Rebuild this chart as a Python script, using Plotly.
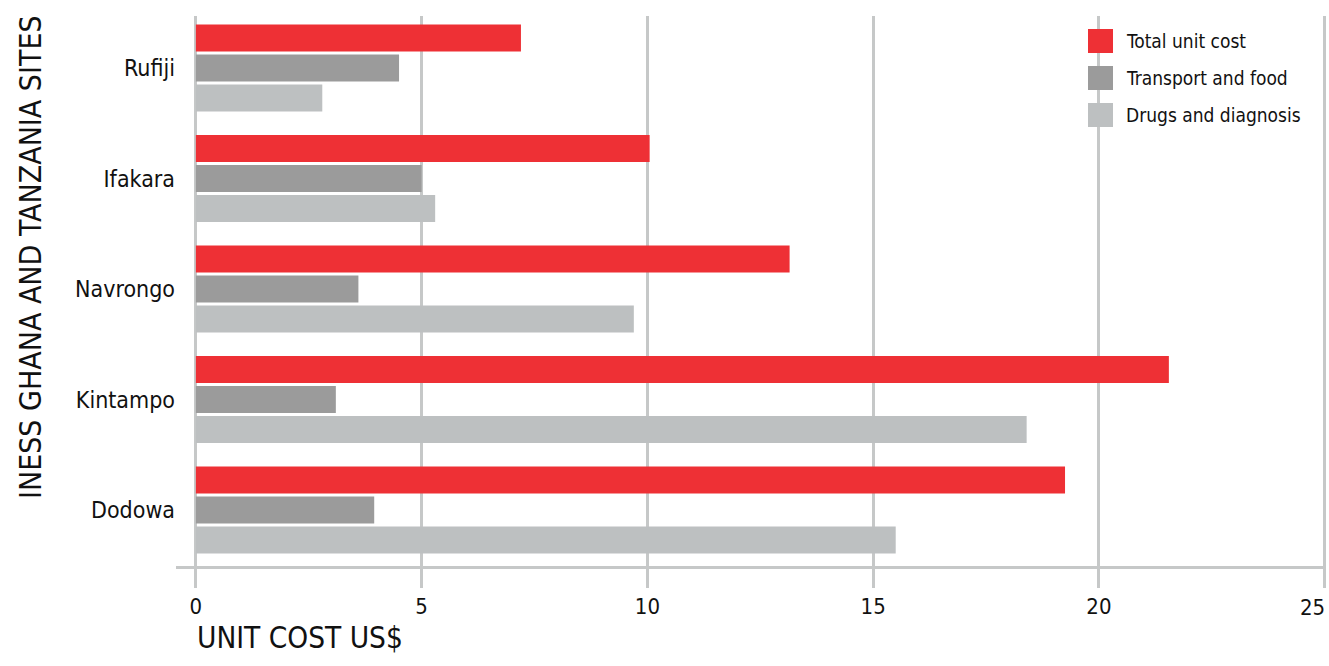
import plotly.graph_objects as go

sites = ["Rufiji", "Ifakara", "Navrongo", "Kintampo", "Dodowa"]
series_names = ["Total unit cost", "Transport and food", "Drugs and diagnosis"]
total_cost = [7.2, 10.05, 13.15, 21.55, 19.25]
transport_food = [4.5, 5.0, 3.6, 3.1, 3.95]
drugs_diagnosis = [2.8, 5.3, 9.7, 18.4, 15.5]
series_values = [total_cost, transport_food, drugs_diagnosis]
colors = ["#EE3035", "#9B9B9B", "#BDC0C1"]
x_ticks = [0, 5, 10, 15, 20, 25]
x_tick_labels = ["0", "5", "10", "15", "20", "25"]

FONT = "DejaVu Sans Condensed, Roboto Condensed, Roboto, sans-serif"
GRID = "#C6C8C8"
DOMW = 1150.0

fig = go.Figure()
for name, vals, col in zip(series_names, series_values, colors):
    fig.add_trace(go.Bar(
        y=sites, x=vals, name=name, orientation="h",
        marker=dict(color=col, line=dict(width=0)),
        showlegend=False,
    ))

# last tick label is drawn right-aligned to its gridline (as in the reference)
shown_labels = x_tick_labels[:-1] + [""]

fig.update_layout(
    width=1329, height=666,
    margin=dict(l=176, r=3, t=16, b=100, autoexpand=False),
    plot_bgcolor="white", paper_bgcolor="white",
    barmode="group", bargap=0.185, bargroupgap=0.1,
    font=dict(family=FONT, color="#111111", size=22),
    xaxis=dict(
        range=[-0.44, 25.03], tickvals=x_ticks, ticktext=shown_labels,
        automargin=False,
        showgrid=True, gridcolor=GRID, gridwidth=2.5,
        zeroline=False, showline=True, linecolor=GRID, linewidth=2.5,
        ticks="outside", ticklen=19, tickcolor=GRID, tickwidth=2.5,
        tickfont=dict(size=22, family=FONT, color="#111111"),
    ),
    yaxis=dict(
        range=[4.507, -0.47], type="category", automargin=False,
        showgrid=False, zeroline=False, showline=False, ticks="",
        tickfont=dict(size=23, family=FONT, color="#111111"),
        ticklabelstandoff=0,
    ),
)

annotations = [
    dict(text=x_tick_labels[-1], xref="x", yref="paper",
         x=x_ticks[-1], y=-0.0755, xshift=2, showarrow=False,
         font=dict(size=22, family=FONT, color="#111111"),
         xanchor="right", yanchor="middle"),
    dict(text="INESS GHANA AND TANZANIA SITES", xref="paper", yref="paper",
         x=(30 - 176) / DOMW, y=0.5618, textangle=-90, showarrow=False,
         font=dict(size=30, family=FONT, color="#111111"),
         xanchor="center", yanchor="middle"),
    dict(text="UNIT COST US$", xref="paper", yref="paper",
         x=(195 - 176) / DOMW, y=-0.131, showarrow=False,
         font=dict(size=29.5, family=FONT, color="#111111"),
         xanchor="left", yanchor="middle"),
]
shapes = []
for i, (name, col) in enumerate(zip(series_names, colors)):
    top_px = 29 + 37 * i
    shapes.append(dict(type="rect", xref="paper", yref="paper",
                       x0=(1088 - 176) / DOMW, x1=(1113 - 176) / DOMW,
                       y0=(566 - (top_px + 24)) / 550, y1=(566 - top_px) / 550,
                       fillcolor=col, line=dict(width=0), layer="above"))
    annotations.append(dict(text=name, xref="paper", yref="paper",
                            x=(1124 - 176) / DOMW, y=(566 - (top_px + 12)) / 550,
                            showarrow=False, xanchor="left", yanchor="middle",
                            font=dict(size=19, family=FONT, color="#111111")))

fig.update_layout(annotations=annotations, shapes=shapes)
fig.write_html("out.html", config={"displayModeBar": False},
               post_script="document.body.style.margin='0px';")
